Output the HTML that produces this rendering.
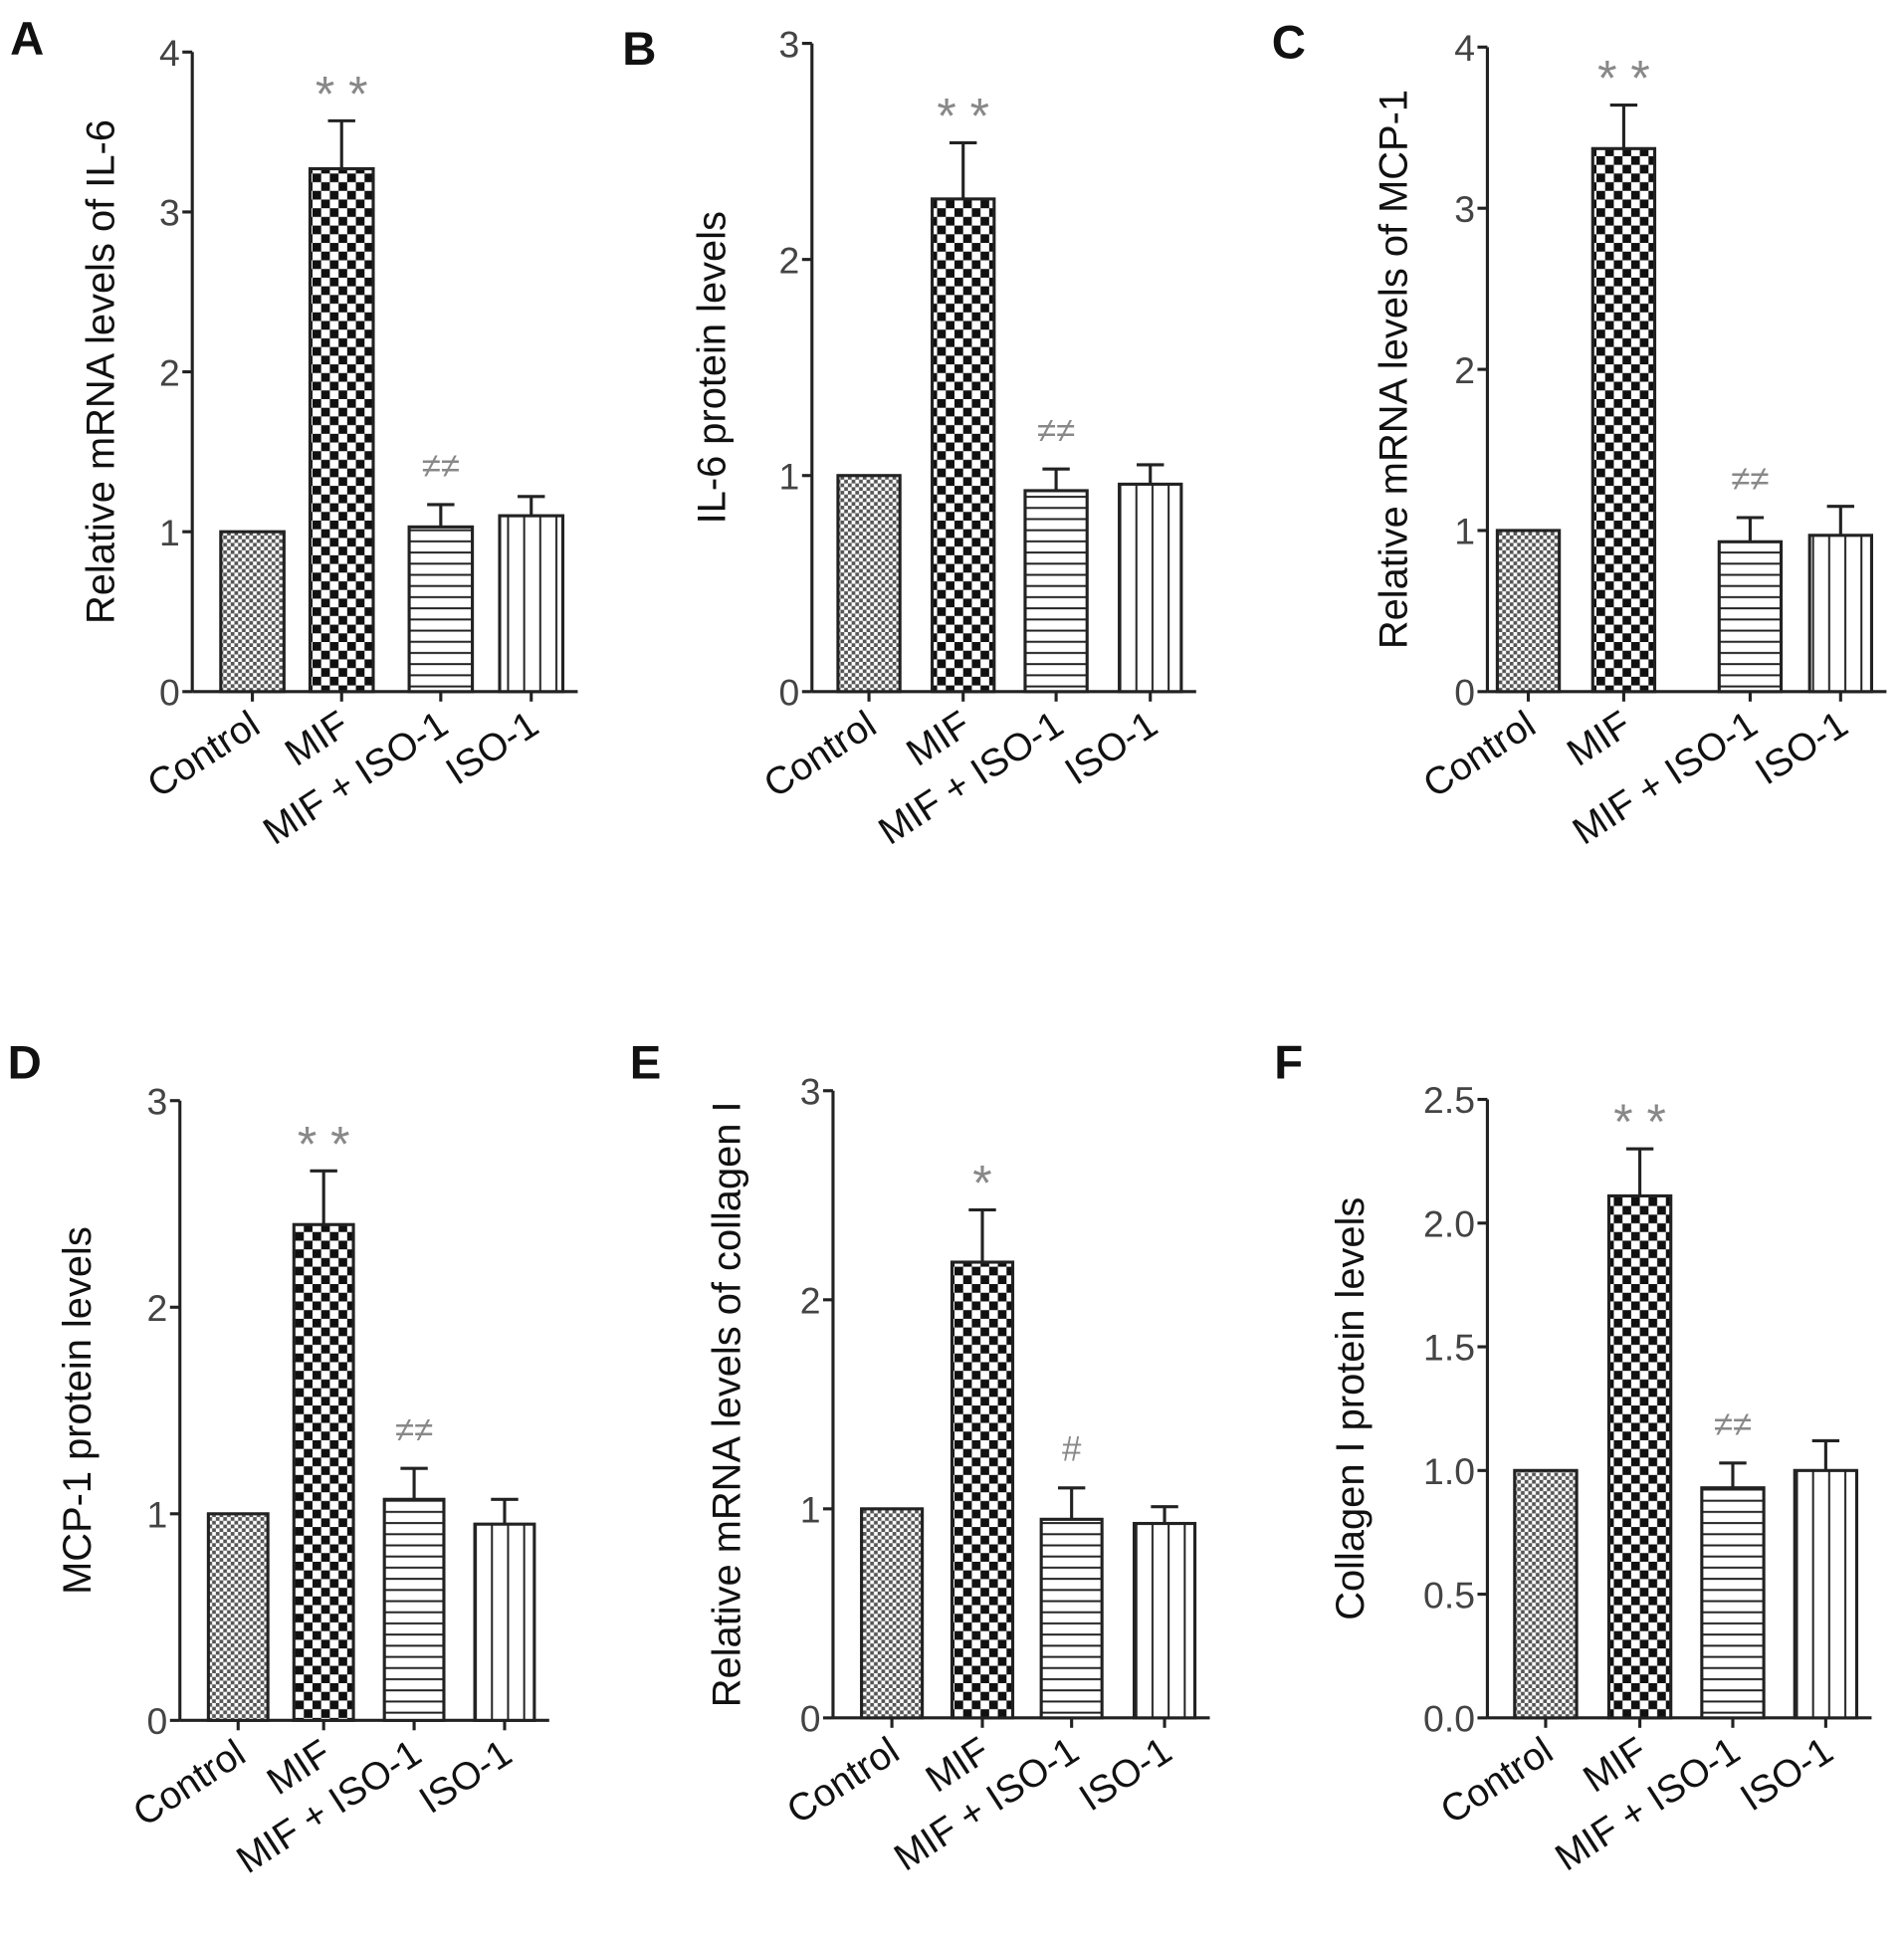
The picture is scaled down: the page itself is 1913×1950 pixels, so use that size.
<!DOCTYPE html>
<html><head><meta charset="utf-8"><style>
html,body{margin:0;padding:0;background:#fff}
svg{display:block;font-family:"Liberation Sans",sans-serif}
</style></head><body>
<svg id="fig" width="1913" height="1950" viewBox="0 0 1536 1566" xmlns="http://www.w3.org/2000/svg">
<defs>
<pattern id="pCtrl" width="6" height="6" patternUnits="userSpaceOnUse"><rect width="6" height="6" fill="#fff"/><rect width="3" height="3" fill="#555"/><rect x="3" y="3" width="3" height="3" fill="#555"/></pattern>
<pattern id="pMif" width="14" height="14" patternUnits="userSpaceOnUse"><rect width="14" height="14" fill="#fff"/><rect width="7" height="7" fill="#111"/><rect x="7" y="7" width="7" height="7" fill="#111"/></pattern>
<pattern id="pH" width="10" height="9" patternUnits="userSpaceOnUse"><rect width="10" height="9" fill="#fff"/><rect y="4" width="10" height="1.6" fill="#222"/></pattern>
<pattern id="pV" width="13" height="10" patternUnits="userSpaceOnUse"><rect width="13" height="10" fill="#fff"/><rect x="6" width="1.6" height="10" fill="#222"/></pattern>
</defs>
</svg>
<script>
const categories=["Control","MIF","MIF + ISO-1","ISO-1"];
const valsA=[1,3.27,1.03,1.1], errA=[0,0.3,0.14,0.12];
const valsB=[1,2.28,0.93,0.96], errB=[0,0.26,0.1,0.09];
const valsC=[1,3.37,0.93,0.97], errC=[0,0.27,0.15,0.18];
const valsD=[1,2.4,1.07,0.95], errD=[0,0.26,0.15,0.12];
const valsE=[1,2.18,0.95,0.93], errE=[0,0.25,0.15,0.08];
const valsF=[1,2.11,0.93,1.0], errF=[0,0.19,0.1,0.12];
const ticksA=["0","1","2","3","4"], ticksB=["0","1","2","3"], ticksF=["0.0","0.5","1.0","1.5","2.0","2.5"];
const marksA=["","* *","≠≠",""], marksB=["","* *","≠≠",""], marksC=["","* *","≠≠",""];
const marksD=["","* *","≠≠",""], marksE=["","*","#",""], marksF=["","* *","≠≠",""];
const panels=[
 {L:"A",lx:8,ly:44,ax:155,top:42,bot:558,max:4,ticks:ticksA,step:1,bars:[178,250,330,403],bw:51,v:valsA,e:errA,m:marksA,title:"Relative mRNA levels of IL-6",tx:92},
 {L:"B",lx:502,ly:52,ax:655,top:35,bot:558,max:3,ticks:ticksB,step:1,bars:[676,752,827,903],bw:50,v:valsB,e:errB,m:marksB,title:"IL-6 protein levels",tx:585},
 {L:"C",lx:1026,ly:47,ax:1200,top:38,bot:558,max:4,ticks:ticksA,step:1,bars:[1208,1285,1387,1460],bw:50,v:valsC,e:errC,m:marksC,title:"Relative mRNA levels of MCP-1",tx:1135},
 {L:"D",lx:6,ly:870,ax:145,top:888,bot:1388,max:3,ticks:ticksB,step:1,bars:[168,237,310,383],bw:48,v:valsD,e:errD,m:marksD,title:"MCP-1 protein levels",tx:73},
 {L:"E",lx:508,ly:870,ax:672,top:880,bot:1386,max:3,ticks:ticksB,step:1,bars:[695,768,840,915],bw:49,v:valsE,e:errE,m:marksE,title:"Relative mRNA levels of collagen I",tx:597},
 {L:"F",lx:1028,ly:870,ax:1200,top:887,bot:1386,max:2.5,ticks:ticksF,step:0.5,bars:[1222,1298,1373,1448],bw:50,v:valsF,e:errF,m:marksF,title:"Collagen I protein levels",tx:1100}
];
const fills=["url(#pCtrl)","url(#pMif)","url(#pH)","url(#pV)"];
const NS="http://www.w3.org/2000/svg", svg=document.getElementById("fig");
function mk(t,a,p,txt){const e=document.createElementNS(NS,t);for(const k in a)e.setAttribute(k,a[k]);if(txt!==undefined)e.textContent=txt;(p||svg).appendChild(e);return e;}
panels.forEach(p=>{
 const g=mk("g",{});
 
 
 const y=v=>p.bot-(v/p.max)*(p.bot-p.top);
 const lab=mk("text",{x:p.lx,y:p.ly,"font-size":38,"font-weight":"bold",fill:"#111"},g,p.L);
 
 
 const ax=mk("line",{x1:p.ax,y1:p.top,x2:p.ax,y2:p.bot,stroke:"#222","stroke-width":2.5},g);
 
 
 const xa=mk("line",{x1:p.ax,y1:p.bot,x2:p.bars[3]+p.bw+12,y2:p.bot,stroke:"#222","stroke-width":2.5},g);
 
 
 p.ticks.forEach((t,i)=>{
  const yy=y(i*p.step);
  mk("line",{x1:p.ax-8,y1:yy,x2:p.ax,y2:yy,stroke:"#222","stroke-width":2.5},g);
  const tl=mk("text",{x:p.ax-10,y:yy+11,"font-size":30,"text-anchor":"end",fill:"#444"},g,t);
  
  
 });
 const tt=mk("text",{x:p.tx,y:(p.top+p.bot)/2,"font-size":32,"text-anchor":"middle",fill:"#111",transform:`rotate(-90 ${p.tx} ${(p.top+p.bot)/2})`},g,p.title);
 
 
 p.v.forEach((v,i)=>{
  const x=p.bars[i], cx=x+p.bw/2;
  const r=mk("rect",{x:x,y:y(v),width:p.bw,height:p.bot-y(v),fill:fills[i],stroke:"#222","stroke-width":2.5},g);
  
  
  if(p.e[i]>0){
   const ye=y(v+p.e[i]);
   mk("line",{x1:cx,y1:y(v),x2:cx,y2:ye,stroke:"#222","stroke-width":2.5},g);
   mk("line",{x1:cx-11,y1:ye,x2:cx+11,y2:ye,stroke:"#222","stroke-width":2.5},g);
  }
  if(p.m[i]){
   const ye=y(v+p.e[i]);
   const star=p.m[i].includes("*");
   const sm=mk("text",{x:cx,y:ye-(star?8:22),"font-size":star?40:28,"text-anchor":"middle",fill:"#888"},g,p.m[i]);
   
   
  }
  mk("line",{x1:cx,y1:p.bot,x2:cx,y2:p.bot+8,stroke:"#222","stroke-width":2.5},g);
  const ly=p.bot+32;
  const cl=mk("text",{x:cx+8,y:ly,"font-size":31,"text-anchor":"end",fill:"#111",transform:`rotate(-33 ${cx+8} ${ly})`},g,categories[i]);
  
  
 });
});
</script>
</body></html>
